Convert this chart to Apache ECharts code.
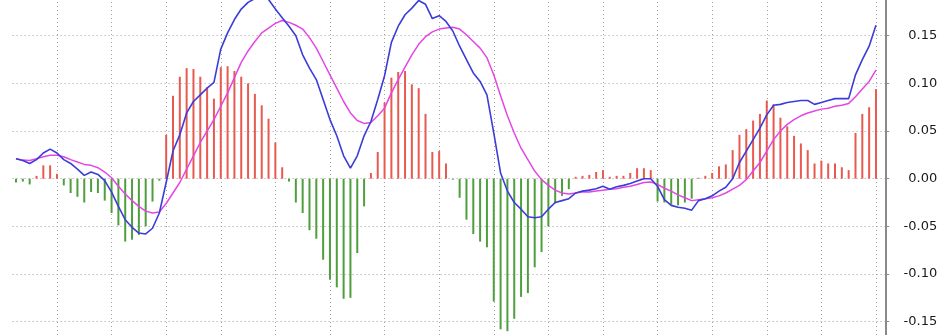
<!DOCTYPE html>
<html>
<head>
<meta charset="utf-8">
<script src="https://cdn.jsdelivr.net/npm/echarts@6/dist/echarts.min.js"></script>
<style>
html,body{margin:0;padding:0;background:#fff;}
#main{width:943px;height:335px;}
</style>
</head>
<body>
<div id="main"></div>
<script>
// MACD histogram (red up / green down), DIF (blue) and DEA (magenta)
var macd = [
  -0.004,-0.003,-0.006,0.003,0.014,0.014,0.005,-0.007,-0.015,-0.019,
  -0.025,-0.014,-0.015,-0.023,-0.036,-0.049,-0.066,-0.064,-0.059,-0.050,
  -0.024,-0.002,0.046,0.087,0.107,0.116,0.115,0.107,0.096,0.084,
  0.117,0.118,0.113,0.107,0.100,0.089,0.077,0.063,0.038,0.012,
  -0.003,-0.025,-0.036,-0.054,-0.063,-0.085,-0.106,-0.114,-0.126,-0.125,
  -0.078,-0.029,0.006,0.028,0.080,0.106,0.112,0.113,0.099,0.095,
  0.068,0.028,0.029,0.016,-0.001,-0.020,-0.043,-0.058,-0.066,-0.072,
  -0.129,-0.158,-0.160,-0.147,-0.124,-0.120,-0.093,-0.077,-0.050,-0.026,
  -0.018,-0.011,0.002,0.003,0.004,0.007,0.009,0.002,0.003,0.003,
  0.006,0.011,0.011,0.009,-0.024,-0.025,-0.027,-0.028,-0.025,-0.021,
  0.001,0.003,0.006,0.013,0.015,0.030,0.046,0.052,0.061,0.068,
  0.082,0.078,0.064,0.055,0.045,0.037,0.030,0.016,0.019,0.016,
  0.016,0.012,0.009,0.048,0.068,0.075,0.094
];
var dif = [
  0.021,0.019,0.016,0.020,0.027,0.031,0.027,0.020,0.016,0.010,
  0.0035,0.007,0.0045,-0.002,-0.014,-0.029,-0.043,-0.051,-0.057,-0.058,
  -0.052,-0.036,-0.004,0.029,0.046,0.069,0.081,0.088,0.095,0.101,
  0.136,0.153,0.167,0.178,0.185,0.189,0.191,0.188,0.178,0.169,
  0.160,0.150,0.130,0.116,0.104,0.083,0.062,0.045,0.024,0.011,
  0.024,0.045,0.060,0.083,0.108,0.143,0.160,0.172,0.179,0.187,
  0.183,0.168,0.171,0.165,0.155,0.139,0.125,0.111,0.102,0.088,
  0.048,0.006,-0.013,-0.025,-0.032,-0.040,-0.041,-0.040,-0.032,-0.025,
  -0.023,-0.021,-0.015,-0.013,-0.012,-0.0105,-0.008,-0.011,-0.0085,-0.007,
  -0.005,-0.0025,0.000,0.000,-0.008,-0.022,-0.028,-0.030,-0.031,-0.033,
  -0.023,-0.021,-0.018,-0.013,-0.009,0.000,0.017,0.029,0.041,0.053,
  0.067,0.077,0.078,0.080,0.081,0.082,0.082,0.078,0.080,0.082,
  0.084,0.084,0.084,0.109,0.125,0.139,0.161
];
var dea = [
  0.021,0.0195,0.019,0.021,0.023,0.0245,0.0245,0.023,0.020,0.0175,
  0.015,0.014,0.0115,0.007,0.001,-0.008,-0.016,-0.023,-0.029,-0.034,
  -0.036,-0.035,-0.026,-0.015,-0.004,0.010,0.024,0.038,0.050,0.062,
  0.076,0.090,0.106,0.122,0.134,0.144,0.153,0.158,0.163,0.166,
  0.164,0.161,0.157,0.148,0.137,0.123,0.109,0.095,0.081,0.069,
  0.061,0.058,0.059,0.066,0.074,0.090,0.104,0.117,0.130,0.141,
  0.149,0.154,0.157,0.158,0.159,0.157,0.151,0.144,0.137,0.127,
  0.109,0.087,0.066,0.048,0.032,0.020,0.008,-0.001,-0.007,-0.012,
  -0.015,-0.016,-0.015,-0.014,-0.014,-0.013,-0.012,-0.011,-0.0105,-0.009,
  -0.008,-0.006,-0.004,-0.0035,-0.006,-0.010,-0.013,-0.017,-0.020,-0.023,
  -0.022,-0.021,-0.020,-0.018,-0.015,-0.011,-0.007,-0.001,0.008,0.017,
  0.029,0.041,0.050,0.057,0.062,0.066,0.069,0.071,0.073,0.074,
  0.076,0.077,0.079,0.086,0.094,0.102,0.114
];
// one empty slot after the last bar
var categories = [];
for (var i = 0; i <= macd.length; i++) categories.push(String(i));
// vertical grid every 8 bars
var vLines = [];
for (var k = 6; k < macd.length; k += 8) vLines.push({xAxis: k});

var chart = echarts.init(document.getElementById('main'));
var option = {
    animation: false,
    grid: {left: 12.6, right: 56.8, top: 0, bottom: 0, containLabel: false},
    xAxis: {
        type: 'category',
        data: categories,
        boundaryGap: true,
        axisLine: {show: false},
        axisTick: {show: false},
        axisLabel: {show: false},
        splitLine: {show: false}
    },
    yAxis: {
        type: 'value',
        position: 'right',
        min: -0.164,
        max: 0.1875,
        splitNumber: 7,
        axisLine: {show: true, lineStyle: {color: '#8a8a8a', width: 2}},
        axisTick: {show: true, length: 3, lineStyle: {color: '#8a8a8a'}},
        axisLabel: {
            show: true,
            showMinLabel: false,
            showMaxLabel: false,
            align: 'right',
            margin: 51,
            color: '#1a1a1a',
            fontSize: 13,
            fontFamily: 'DejaVu Sans',
            formatter: function (v) { return v.toFixed(2); }
        },
        splitLine: {
            show: true,
            showMinLine: false,
            showMaxLine: false,
            lineStyle: {color: '#a0a0a0', type: [1, 3], width: 1}
        }
    },
    series: [
        {
            name: 'MACD',
            type: 'bar',
            data: macd,
            barWidth: 2,
            z: 2,
            itemStyle: {
                color: function (p) { return p.value >= 0 ? '#e85a50' : '#4f9e3e'; }
            },
            markLine: {
                silent: true,
                symbol: 'none',
                z: 1,
                label: {show: false},
                lineStyle: {color: '#a0a0a0', type: [1, 3], width: 1},
                data: vLines
            }
        },
        {
            name: 'DEA',
            type: 'line',
            data: dea,
            showSymbol: false,
            smooth: false,
            z: 3,
            lineStyle: {color: '#e446e4', width: 1.5}
        },
        {
            name: 'DIF',
            type: 'line',
            data: dif,
            showSymbol: false,
            smooth: false,
            z: 4,
            lineStyle: {color: '#3c3cd8', width: 1.6}
        }
    ]
};
chart.setOption(option);
</script>
</body>
</html>
